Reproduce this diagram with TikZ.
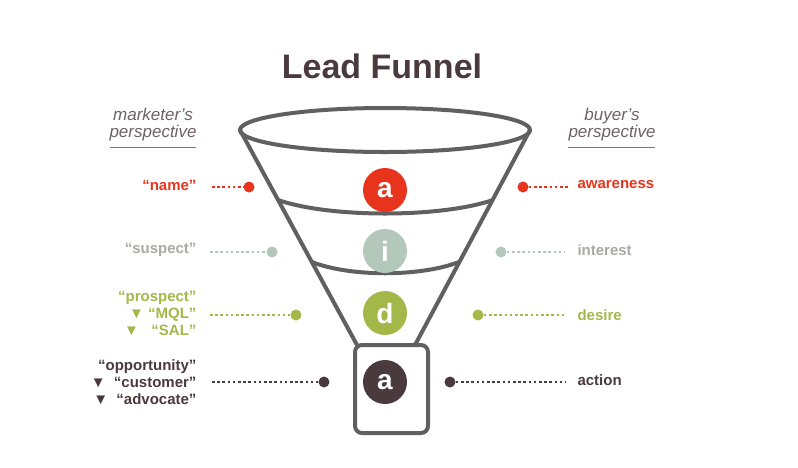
\documentclass[tikz,border=0pt]{standalone}
\usepackage{fontspec}
\setmainfont{Liberation Sans}
\usetikzlibrary{positioning}
\definecolor{cred}{HTML}{E8341C}
\definecolor{cgrey}{HTML}{B3C7BB}
\definecolor{cgreyt}{HTML}{A6ABA6}
\definecolor{cgreen}{HTML}{A4B84A}
\definecolor{cdark}{HTML}{4A3A3D}
\definecolor{cfun}{HTML}{606060}
\tikzset{
  stage/.style={circle,minimum size=44pt,inner sep=0pt,text=white,font=\fontsize{28}{28}\selectfont\bfseries},
  dot/.style={circle,minimum size=11pt,inner sep=0pt},
  lab/.style={font=\fontsize{15}{17}\selectfont\bfseries},
  lead/.style={line width=2.6pt,dash pattern=on 2.6pt off 2.6pt},
  persp/.style={font=\fontsize{17}{17}\selectfont\itshape,text=cdark!80,align=center}
}
\begin{document}
\begin{tikzpicture}[x=1pt,y=-1pt]
\useasboundingbox (0,0) rectangle (798,467);
\node[font=\fontsize{34}{34}\selectfont\bfseries,text=cdark] (title) at (382,66) {Lead Funnel};
% funnel
\begin{scope}[draw=cfun,line width=4pt]
\draw (357,345) -- (240,130);
\draw (415,345) -- (530,130);
\draw (385,130) ellipse (145 and 22);
\draw (278,200) .. controls (330,218) and (440,218) .. (493,200);
\draw (312,262) .. controls (350,277) and (420,277) .. (459,262);
\draw[rounded corners=7pt] (355,345) rectangle (428,433);
\end{scope}
% stages
\node[stage,fill=cred] (s1) at (385,190) {a};
\node[stage,fill=cgrey] (s2) at (385,251) {i};
\node[stage,fill=cgreen] (s3) at (385,313) {d};
\node[stage,fill=cdark] (s4) at (385,382) {a};
% perspectives
\node[persp] (mp) at (153,125) {marketer’s\\perspective};
\draw[cdark!70,line width=0.8pt] (110,147) -- (196,147);
\node[persp] (bp) at (612,125) {buyer’s\\perspective};
\draw[cdark!70,line width=0.8pt] (568,147) -- (655,147);
% left side
\node[dot,fill=cred] (l1) at (249,187) {};
\node[dot,fill=cgrey] (l2) at (272,252) {};
\node[dot,fill=cgreen] (l3) at (296,315) {};
\node[dot,fill=cdark] (l4) at (324,382) {};
\node[lab,text=cred,anchor=east] (t1) at (200,185) {“name”};
\node[lab,text=cgreyt,anchor=east] (t2) at (200,250) {“suspect”};
\node[lab,text=cgreen,anchor=east,align=right] (t3) at (200,313) {“prospect”\\▼ “MQL”\\▼ \ \ “SAL”};
\node[lab,text=cdark,anchor=east,align=right] (t4) at (200,382) {“opportunity”\\▼ \ “customer”\\▼ \ “advocate”};
\coordinate (c1) at (212,187);
\coordinate (c2) at (210,252);
\coordinate (c3) at (210,315);
\coordinate (c4) at (212,382);
\draw[lead,cred] (c1) -- (l1);
\draw[lead,cgrey] (c2) -- (l2);
\draw[lead,cgreen] (c3) -- (l3);
\draw[lead,cdark] (c4) -- (l4);
% right side
\node[dot,fill=cred] (r1) at (523,187) {};
\node[dot,fill=cgrey] (r2) at (501,252) {};
\node[dot,fill=cgreen] (r3) at (478,315) {};
\node[dot,fill=cdark] (r4) at (450,382) {};
\node[lab,text=cred,anchor=west] (u1) at (574,185) {awareness};
\node[lab,text=cgreyt,anchor=west] (u2) at (574,250) {interest};
\node[lab,text=cgreen,anchor=west] (u3) at (574,315) {desire};
\node[lab,text=cdark,anchor=west] (u4) at (574,380) {action};
\coordinate (d1) at (570,187);
\coordinate (d2) at (565,252);
\coordinate (d3) at (565,315);
\coordinate (d4) at (565,382);
\draw[lead,cred] (r1) -- (d1);
\draw[lead,cgrey] (r2) -- (d2);
\draw[lead,cgreen] (r3) -- (d3);
\draw[lead,cdark] (r4) -- (d4);
\end{tikzpicture}
\end{document}
